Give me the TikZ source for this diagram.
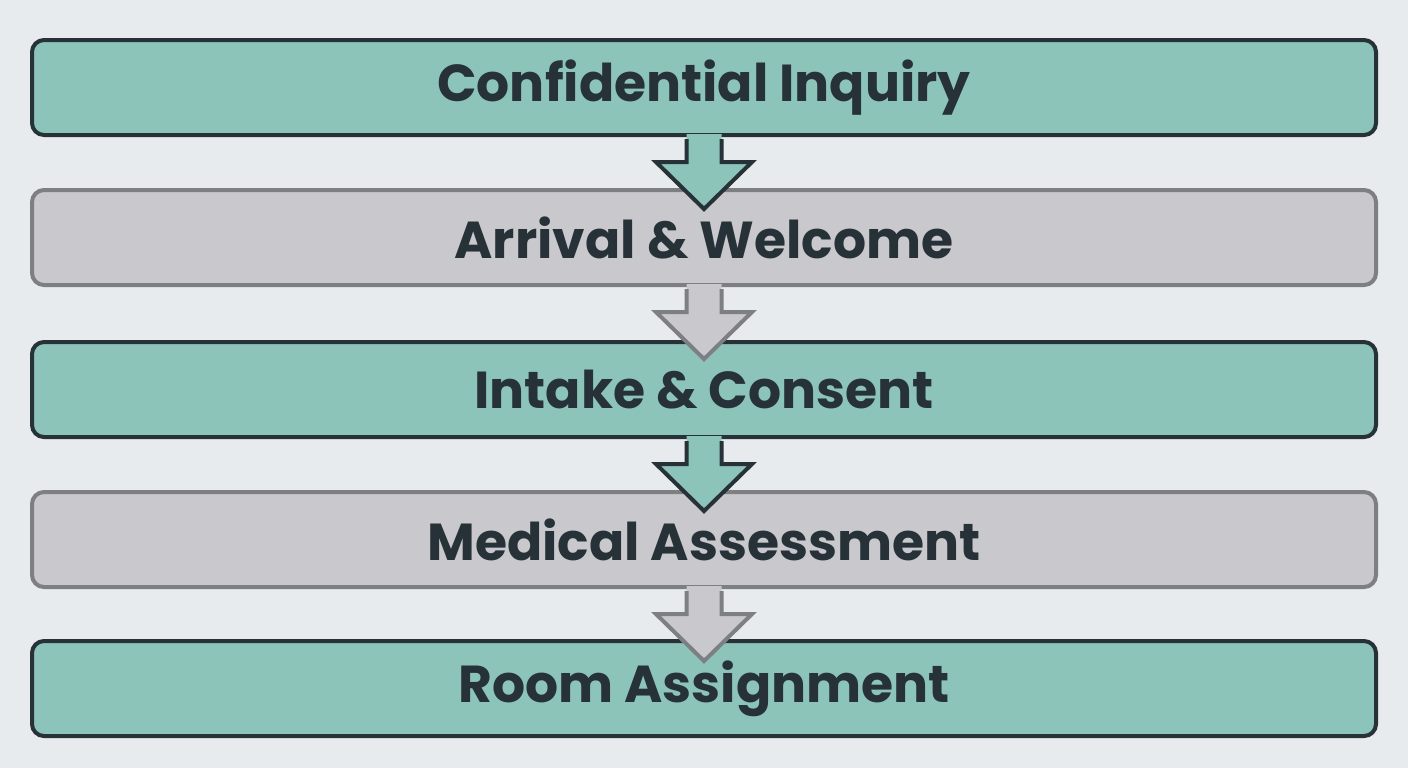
\documentclass[tikz,border=0pt]{standalone}
\usepackage{fontspec}
\setmainfont{Poppins}
\usetikzlibrary{calc}
\definecolor{bgc}{HTML}{E8EBED}
\definecolor{tealf}{HTML}{8CC4BA}
\definecolor{tealb}{HTML}{263238}
\definecolor{grayf}{HTML}{C9C8CC}
\definecolor{grayb}{HTML}{7D7F82}
\definecolor{txt}{HTML}{263238}

\tikzset{
  stepbox/.style={rounded corners=6pt, line width=2pt, minimum width=672pt, minimum height=47.5pt,
    text=txt, font=\bfseries\fontsize{26}{30}\selectfont},
  tealstep/.style={stepbox, fill=tealf, draw=tealb},
  graystep/.style={stepbox, fill=grayf, draw=grayb},
}
% block arrow hanging below a step
\newcommand{\stepArrow}[3]{%
  \fill[#2] ($(#1.south)+(-8.75,1.5)$) -- ($(#1.south)+(-8.75,-12.5)$) -- ($(#1.south)+(-24,-12.5)$)
    -- ($(#1.south)+(0,-36)$) -- ($(#1.south)+(24,-12.5)$) -- ($(#1.south)+(8.75,-12.5)$)
    -- ($(#1.south)+(8.75,1.5)$) -- cycle;
  \draw[#3, line width=2pt, line join=miter] ($(#1.south)+(-8.75,-1)$) -- ($(#1.south)+(-8.75,-12.5)$) -- ($(#1.south)+(-24,-12.5)$)
    -- ($(#1.south)+(0,-36)$) -- ($(#1.south)+(24,-12.5)$) -- ($(#1.south)+(8.75,-12.5)$)
    -- ($(#1.south)+(8.75,-1)$);
}

\begin{document}
\begin{tikzpicture}[x=1pt,y=1pt]
  \fill[bgc] (0,0) rectangle (704,-384);
  \useasboundingbox (0,0) rectangle (704,-384);

  % steps
  \node[tealstep] (inquiry) at (352,-43.75) {Confidential Inquiry};
  \node[graystep] (arrival) at (352,-118.75) {Arrival \& Welcome};
  \node[tealstep] (intake) at (352,-194.75) {Intake \& Consent};
  \node[graystep] (medical) at (352,-269.75) {Medical Assessment};
  \node[tealstep] (room) at (352,-344.25) {Room Assignment};

  % arrows
  \stepArrow{inquiry}{tealf}{tealb}
  \stepArrow{arrival}{grayf}{grayb}
  \stepArrow{intake}{tealf}{tealb}
  \stepArrow{medical}{grayf}{grayb}
\end{tikzpicture}
\end{document}
